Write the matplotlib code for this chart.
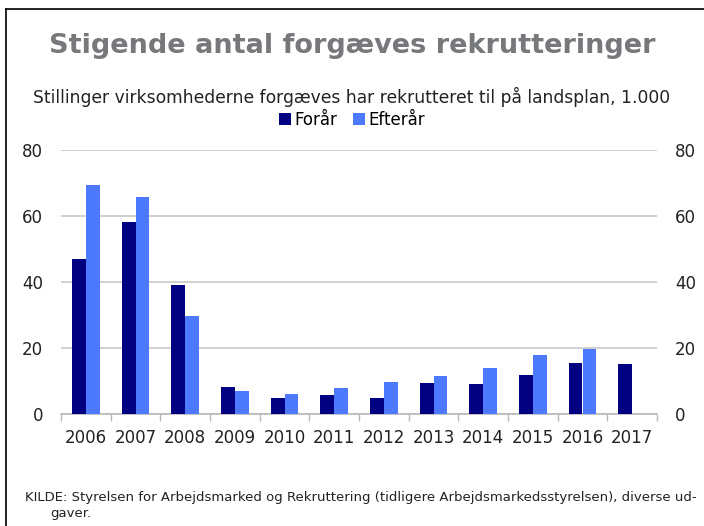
import matplotlib
matplotlib.use("Agg")
import matplotlib.pyplot as plt
import numpy as np
from matplotlib.lines import Line2D

years = ['2006', '2007', '2008', '2009', '2010', '2011',
         '2012', '2013', '2014', '2015', '2016', '2017']
foraar = [46.9, 58.2, 39.2, 8.3, 4.7, 5.7, 5.0, 9.3, 9.1, 11.8, 15.5, 15.3]
efteraar = [69.3, 65.9, 29.6, 7.1, 6.1, 8.0, 9.6, 11.6, 13.8, 17.9, 19.7]

plt.rcParams['font.family'] = ['DejaVu Sans']

fig = plt.figure(figsize=(7.04, 5.26), dpi=100)
ax = fig.add_axes([61/704, 1-414/526, 596/704, 264/526])

x = np.arange(len(years))
w = 0.28
ax.bar(x[:len(foraar)] - w/2, foraar, w, color='#000080', label='Forår', zorder=3)
ax.bar(x[:len(efteraar)] + w/2, efteraar, w, color='#4d79ff', label='Efterår', zorder=3)

ax.set_xlim(-0.5, len(years) - 0.5)
ax.set_ylim(0, 80)
ax.set_yticks([0, 20, 40, 60, 80])
ax.grid(axis='y', color='#c8c8c8', linewidth=1.2, zorder=0)
for s in ['left', 'right', 'top']:
    ax.spines[s].set_visible(False)
ax.spines['bottom'].set_color('#b8b8b8')
ax.spines['bottom'].set_linewidth(1.2)

ax.set_xticks(x)
ax.set_xticklabels(years)
ax.set_xticks(np.arange(-0.5, len(years)), minor=True)
ax.tick_params(axis='x', which='major', length=0, pad=11, labelsize=12, colors='#222222')
ax.tick_params(axis='x', which='minor', length=5, color='#b8b8b8', width=1)
ax.tick_params(axis='y', length=0, labelsize=12, colors='#222222', pad=13,
               labelright=True, right=False)

fig.text(0.5, 1-46/526, 'Stigende antal forgæves rekrutteringer', ha='center', va='center',
         fontsize=19.5, fontweight='bold', color='#76787b')
fig.text(0.5, 1-97/526, 'Stillinger virksomhederne forgæves har rekrutteret til på landsplan, 1.000',
         ha='center', va='center', fontsize=12.3, color='#222222')
fig.legend(loc='center', bbox_to_anchor=(0.5, 1-120/526), ncol=2, frameon=False,
           fontsize=12, handlelength=0.7, handleheight=0.7, handletextpad=0.2,
           columnspacing=1.0, borderpad=0)

fig.text(25/704, 1-497/526, 'KILDE: Styrelsen for Arbejdsmarked og Rekruttering (tidligere Arbejdsmarkedsstyrelsen), diverse ud-',
         ha='left', va='center', fontsize=9.5, color='#222222')
fig.text(50/704, 1-513/526, 'gaver.', ha='left', va='center', fontsize=9.5, color='#222222')

fig.add_artist(Line2D([6/704, 1], [1-9/526, 1-9/526], color='black', linewidth=1.2,
                      transform=fig.transFigure))
fig.add_artist(Line2D([6/704, 6/704], [0, 1-9/526], color='black', linewidth=1.2,
                      transform=fig.transFigure))

fig.savefig('out.png', dpi=100)
